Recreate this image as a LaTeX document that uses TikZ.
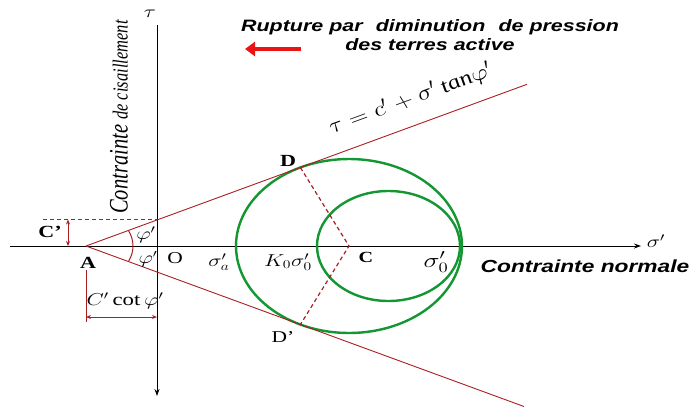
\documentclass[tikz,border=0pt]{standalone}
\usepackage{fontspec}
\setmainfont{Liberation Serif}
\setsansfont{Liberation Sans}
\usetikzlibrary{arrows.meta}
\definecolor{dred}{RGB}{170,30,35}
\definecolor{mgreen}{RGB}{20,150,50}
\definecolor{bred}{RGB}{235,20,20}
\tikzset{
  axisline/.style={line width=1pt, black},
  envline/.style={line width=0.9pt, dred},
  mohr/.style={line width=2.4pt, mgreen},
  dashline/.style={line width=1.2pt, dred, dash pattern=on 4pt off 3pt},
  dimarrow/.style={line width=1pt, dred, {Stealth[length=5pt,width=4pt]}-{Stealth[length=5pt,width=4pt]}},
  lbl/.style={inner sep=0pt, xscale=1.3, font=\fontsize{15}{17}\selectfont},
  sanslbl/.style={inner sep=0pt, xscale=1.3, font=\fontsize{16.5}{19.5}\selectfont\sffamily\bfseries\itshape},
}
\begin{document}
\begin{tikzpicture}[x=1pt,y=-1pt]
\useasboundingbox (0,0) rectangle (696,408);
% key points
\coordinate (A) at (86,246);
\coordinate (O) at (157,246);
\coordinate (C) at (349,246);
\coordinate (C2) at (388.5,246);
\coordinate (D) at (300.4,167.5);
\coordinate (Dp) at (300.4,324.5);
\coordinate (Up) at (527,84.3);
\coordinate (Lo) at (524,406.5);
\coordinate (Hl) at (10,246);
\coordinate (Hr) at (641,246);
\coordinate (Vt) at (157,25);
\coordinate (Vb) at (157,396);
\coordinate (Cd) at (157,219.5);
\coordinate (Cl) at (43,219.5);
\coordinate (Ca) at (68,219.5);
\coordinate (Cb) at (68,246);
\coordinate (Ad1) at (86,270);
\coordinate (Ad2) at (86,322);
\coordinate (K1) at (86,317);
\coordinate (K2) at (157,317);
\coordinate (R1) at (301,49);
\coordinate (R2) at (245,49);
% axes
\draw[axisline,-{Stealth[length=7pt,width=5pt]}] (Hl) -- (Hr);
\draw[axisline,-{Stealth[length=7pt,width=5pt]}] (Vt) -- (Vb);
% Mohr circles
\draw[mohr] (C) ellipse [x radius=113pt, y radius=87pt];
\draw[mohr] (C2) ellipse [x radius=71.5pt, y radius=55pt];
% envelope lines
\draw[envline] (A) -- (Up);
\draw[envline] (A) -- (Lo);
% radii
\draw[dashline] (D) -- (C) -- (Dp);
% cohesion
\draw[dashline, line width=1pt] (Cl) -- (Cd);
\draw[dimarrow] (Ca) -- (Cb);
% angle arc
\draw[envline, line width=1pt] ([shift={(-25.47:47pt and 36pt)}]A) arc[start angle=-25.47, end angle=25.47, x radius=47pt, y radius=36pt];
% c' cot phi'
\draw[envline] (Ad1) -- (Ad2);
\draw[dimarrow] (K1) -- (K2);
% red arrow
\draw[bred, line width=4pt, -{Triangle[length=10pt,width=14pt]}] (R1) -- (R2);
% labels
\node[lbl] (tau) at (150,14) {\fontsize{18}{18}\selectfont$\tau$};
\node[lbl, rotate=90, font=\itshape] (ylab) at (119,117) {\fontsize{20.5}{21}\selectfont Contrainte \fontsize{16.5}{17}\selectfont de cisaillement};
\node[sanslbl, align=center] (title) at (430,35) {Rupture par\,\, diminution\,\, de pression\\des terres active};
\node[lbl, rotate=25.47] (eq) at (411,99) {\fontsize{20}{20}\selectfont$\tau = c' + \sigma'\,\mathit{tan}\varphi'$};
\node[lbl, font=\bfseries\fontsize{17}{16}\selectfont] (Dl) at (288,161) {D};
\node[lbl] (Dpl) at (283,337) {\fontsize{16.5}{16}\selectfont D’};
\node[lbl, font=\bfseries\fontsize{17}{16}\selectfont] (Al) at (88,263) {A};
\node[lbl, font=\bfseries\fontsize{17}{16}\selectfont] (Cpl) at (50,232) {C’};
\node[lbl] (Ol) at (175,258) {\fontsize{16.5}{16}\selectfont O};
\node[lbl, font=\bfseries\fontsize{15.5}{15}\selectfont] (Cl2) at (366,257) {C};
\node[lbl] (ph1) at (146,235) {\fontsize{18}{18}\selectfont$\varphi'$};
\node[lbl] (ph2) at (148,259) {\fontsize{16}{16}\selectfont$\varphi'$};
\node[lbl] (sa) at (219,262) {\fontsize{18}{18}\selectfont$\sigma'_a$};
\node[lbl] (ks) at (288,262) {\fontsize{18.5}{18}\selectfont$K_0\sigma'_0$};
\node[lbl] (s0) at (436,262) {\fontsize{20}{20}\selectfont$\sigma'_0$};
\node[lbl] (sp) at (656,241) {\fontsize{18}{18}\selectfont$\sigma'$};
\node[sanslbl, font=\fontsize{17.5}{19}\selectfont\sffamily\bfseries\itshape] (cn) at (585,266) {Contrainte normale};
\node[lbl] (cot) at (125,301) {\fontsize{17.5}{17}\selectfont$C'\cot\varphi'$};
\end{tikzpicture}
\end{document}
